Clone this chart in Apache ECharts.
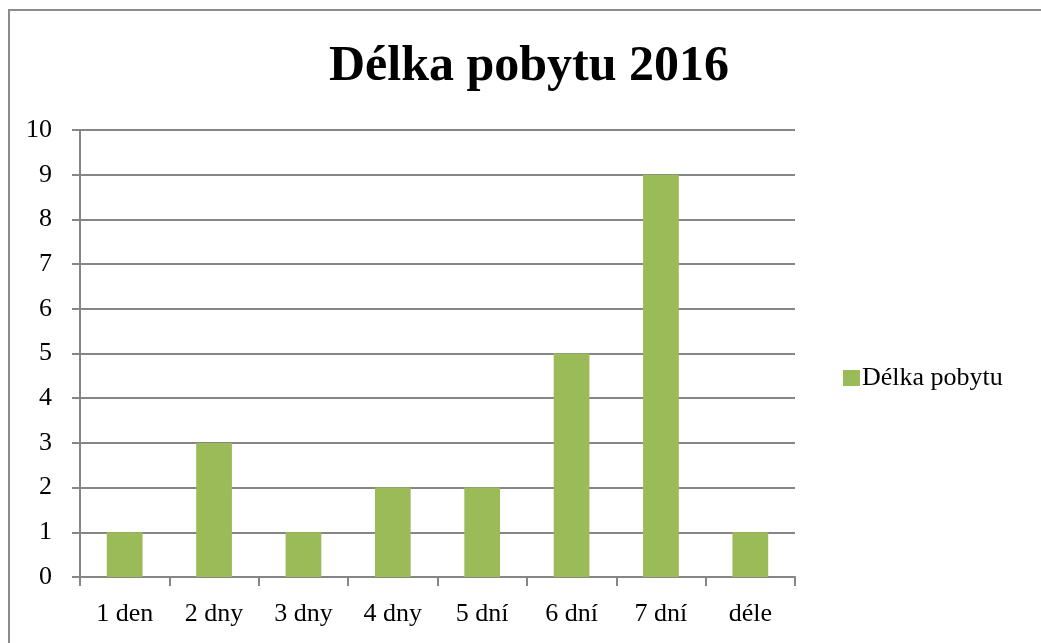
<!DOCTYPE html>
<html>
<head>
<meta charset="utf-8">
<script src="https://cdn.jsdelivr.net/npm/echarts@6/dist/echarts.min.js"></script>
<style>
html, body { margin: 0; padding: 0; background: #fff; }
#chart { width: 1041px; height: 643px; }
</style>
</head>
<body>
<div id="chart"></div>
<script>
var categories = ["1 den", "2 dny", "3 dny", "4 dny", "5 dní", "6 dní", "7 dní", "déle"];
var values = [1, 3, 1, 2, 2, 5, 9, 1];
var seriesName = "Délka pobytu";
var titleText = "Délka pobytu 2016";

var FONT = "'Liberation Serif', 'DejaVu Serif', serif";
var chart = echarts.init(document.getElementById("chart"));
chart.setOption({
    backgroundColor: "#fff",
    animation: false,
    graphic: [{
        type: "rect",
        shape: {x: 9, y: 10, width: 1100, height: 700},
        style: {fill: null, stroke: "#8c8c8c", lineWidth: 2}
    }],
    title: {
        text: titleText,
        left: 524,
        textAlign: "center",
        top: 37,
        textStyle: {fontFamily: FONT, fontSize: 50, fontWeight: "bold", color: "#000"}
    },
    legend: {
        data: [seriesName],
        left: 838,
        top: 360,
        icon: "rect",
        itemWidth: 17,
        itemHeight: 16,
        itemGap: 0,
        textStyle: {fontFamily: FONT, fontSize: 26, color: "#000", padding: [0, 0, 0, -3]}
    },
    grid: {left: 80, right: 246, top: 130, bottom: 66},
    xAxis: {
        type: "category",
        data: categories,
        axisLine: {lineStyle: {color: "#868686", width: 2}},
        axisTick: {show: true, length: 9, lineStyle: {color: "#868686", width: 2}},
        axisLabel: {fontFamily: FONT, fontSize: 26, color: "#000", margin: 24}
    },
    yAxis: {
        type: "value",
        min: 0,
        max: 10,
        interval: 1,
        axisLine: {show: true, lineStyle: {color: "#868686", width: 2}},
        axisTick: {show: true, length: 8, lineStyle: {color: "#868686", width: 2}},
        splitLine: {lineStyle: {color: "#868686", width: 2}},
        axisLabel: {fontFamily: FONT, fontSize: 26, color: "#000", margin: 28}
    },
    series: [{
        name: seriesName,
        type: "bar",
        data: values,
        barWidth: "40%",
        itemStyle: {color: "#9bbb59"}
    }]
});
</script>
</body>
</html>
